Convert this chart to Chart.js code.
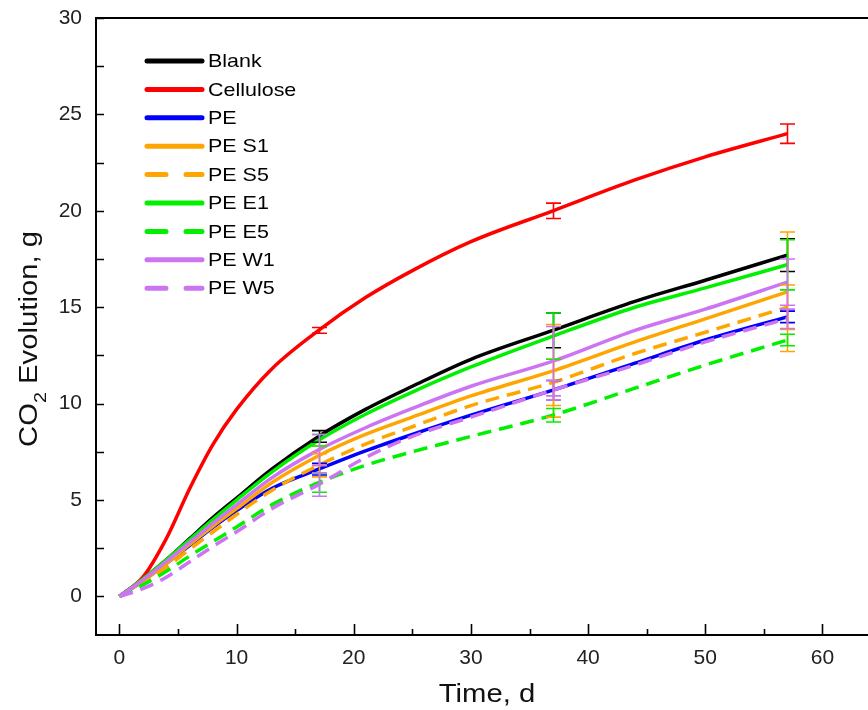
<!DOCTYPE html>
<html>
<head>
<meta charset="utf-8">
<script src="https://cdn.jsdelivr.net/npm/chart.js@4"></script>
<style>
html,body{margin:0;padding:0;background:#fff;overflow:hidden;width:868px;height:710px;}
#wrap{position:absolute;left:0;top:0;width:900px;height:710px;}
</style>
</head>
<body>
<div id="wrap"><canvas id="c" width="900" height="710"></canvas></div>
<script>
// ---- data ----
const days = [0, 2, 4, 6, 8, 10, 13, 17, 21, 25, 30, 37, 44, 50, 57];
const seriesNames = ['Blank','Cellulose','PE','PE S1','PE S5','PE E1','PE E5','PE W1','PE W5'];
const blank     = [0, 0.9, 1.9, 3.0, 4.1, 5.1, 6.6, 8.3, 9.7, 10.9, 12.3, 13.8, 15.3, 16.4, 17.7];
const cellulose = [0, 1.0, 3.0, 5.6, 7.9, 9.7, 11.8, 13.8, 15.5, 16.9, 18.4, 20.0, 21.6, 22.8, 24.0];
const pe        = [0, 0.8, 1.7, 2.65, 3.6, 4.45, 5.6, 6.6, 7.55, 8.4, 9.4, 10.7, 12.1, 13.3, 14.5];
const peS1      = [0, 0.8, 1.7, 2.7, 3.65, 4.55, 5.9, 7.3, 8.4, 9.3, 10.4, 11.7, 13.2, 14.4, 15.8];
const peS5      = [0, 0.7, 1.5, 2.45, 3.35, 4.25, 5.5, 6.8, 7.9, 8.8, 9.9, 11.1, 12.6, 13.7, 15.0];
const peE1      = [0, 0.9, 1.9, 2.95, 4.0, 5.0, 6.45, 8.1, 9.45, 10.6, 11.9, 13.5, 15.0, 16.0, 17.2];
const peE5      = [0, 0.6, 1.3, 2.1, 2.85, 3.6, 4.75, 5.9, 6.8, 7.5, 8.3, 9.4, 10.8, 12.0, 13.3];
const peW1      = [0, 0.85, 1.8, 2.8, 3.8, 4.75, 6.15, 7.6, 8.75, 9.75, 10.9, 12.2, 13.8, 14.9, 16.3];
const peW5      = [0, 0.4, 1.0, 1.8, 2.6, 3.35, 4.55, 5.8, 7.2, 8.3, 9.3, 10.7, 12.0, 13.2, 14.4];
// error bars (± values) at these days
const errDays = [17, 37, 57];
const errBlank     = [0.3, 0.9, 0.85];
const errCellulose = [0.15, 0.4, 0.5];
const errPE        = [0.3, 0.5, 0.3];
const errS1        = [0.5, 2.4, 3.1];
const errS5        = [0.6, 1.2, 1.15];
const errE1        = [0.3, 1.2, 1.3];
const errE5        = [0.5, 0.35, 0.3];
const errW1        = [0.8, 1.8, 1.2];
const errW5        = [0.6, 0.5, 0.5];
const xTicks = [0, 10, 20, 30, 40, 50, 60];
const yTicks = [0, 5, 10, 15, 20, 25, 30];

// ---- styles ----
const ORANGE = '#ffa500', GREEN = '#00f000', PURPLE = '#cc74f2';
const values = [blank, cellulose, pe, peS1, peS5, peE1, peE5, peW1, peW5];
const errs = [errBlank, errCellulose, errPE, errS1, errS5, errE1, errE5, errW1, errW5];
const colors = ['#000000', '#ff0000', '#0000ff', ORANGE, ORANGE, GREEN, GREEN, PURPLE, PURPLE];
const dashed = [false, false, false, false, true, false, true, false, true];
const FONT = '"Liberation Sans", Arial, Helvetica, sans-serif';

const datasets = seriesNames.map((n, i) => ({
  label: n,
  data: days.map((d, k) => ({x: d, y: values[i][k]})),
  borderColor: colors[i],
  backgroundColor: colors[i],
  borderWidth: 3.5,
  borderDash: dashed[i] ? [14, 8] : [],
  pointRadius: 0,
  cubicInterpolationMode: 'monotone',
  fill: false,
  order: 20 - i,
  errs: errs[i]
}));

const errorBarPlugin = {
  id: 'errbars',
  afterDatasetsDraw(chart) {
    const ctx = chart.ctx, xs = chart.scales.x, ys = chart.scales.y;
    ctx.save();
    ctx.lineWidth = 1.6;
    ctx.setLineDash([]);
    chart.data.datasets.forEach((ds, i) => {
      ctx.strokeStyle = ds.borderColor;
      errDays.forEach((d, j) => {
        const k = days.indexOf(d);
        const v = values[i][k], e = ds.errs[j];
        const px = Math.round(xs.getPixelForValue(d)) + 0.5;
        const y1 = ys.getPixelForValue(v + e), y2 = ys.getPixelForValue(v - e);
        ctx.beginPath();
        ctx.moveTo(px, y1); ctx.lineTo(px, y2);
        ctx.moveTo(px - 7.5, y1); ctx.lineTo(px + 7.5, y1);
        ctx.moveTo(px - 7.5, y2); ctx.lineTo(px + 7.5, y2);
        ctx.stroke();
      });
    });
    ctx.restore();
  }
};

function stretchedText(ctx, text, x, y, sx) {
  ctx.save();
  ctx.translate(x, y);
  ctx.scale(sx, 1);
  ctx.fillText(text, 0, 0);
  ctx.restore();
}

const framePlugin = {
  id: 'frame',
  afterDraw(chart) {
    const ctx = chart.ctx, a = chart.chartArea, xs = chart.scales.x, ys = chart.scales.y;
    ctx.save();
    ctx.strokeStyle = '#000';
    ctx.lineWidth = 2;
    ctx.setLineDash([]);
    ctx.beginPath();
    ctx.rect(a.left, a.top, a.right - a.left, a.bottom - a.top);
    ctx.stroke();
    ctx.lineWidth = 1.6;
    ctx.beginPath();
    for (let v = 0; v <= 65; v += 5) {
      const px = Math.round(xs.getPixelForValue(v)) + 0.5;
      const len = (v % 10 === 0) ? 11 : 6;
      ctx.moveTo(px, a.bottom); ctx.lineTo(px, a.bottom - len);
    }
    for (let v = 0; v <= 30; v += 2.5) {
      const py = Math.round(ys.getPixelForValue(v)) + 0.5;
      ctx.moveTo(a.left, py); ctx.lineTo(a.left + 8, py);
    }
    ctx.stroke();
    ctx.restore();

    // x axis title
    ctx.save();
    ctx.fillStyle = '#111';
    ctx.font = '25px ' + FONT;
    ctx.textBaseline = 'alphabetic';
    ctx.textAlign = 'center';
    stretchedText(ctx, 'Time, d', 487, 702, 1.17);
    ctx.restore();

    // y axis title with subscript
    ctx.save();
    ctx.fillStyle = '#111';
    ctx.translate(37, 339);
    ctx.rotate(-Math.PI / 2);
    ctx.scale(1.17, 1);
    const big = '25px ' + FONT, small = '17px ' + FONT;
    ctx.font = big;
    const w1 = ctx.measureText('CO').width;
    const w3 = ctx.measureText(' Evolution, g').width;
    ctx.font = small;
    const w2 = ctx.measureText('2').width;
    const total = w1 + w2 + w3;
    const x0 = -total / 2;
    ctx.textBaseline = 'alphabetic';
    ctx.textAlign = 'left';
    ctx.font = big; ctx.fillText('CO', x0, 0);
    ctx.font = small; ctx.fillText('2', x0 + w1, 9);
    ctx.font = big; ctx.fillText(' Evolution, g', x0 + w1 + w2, 0);
    ctx.restore();

    // legend
    ctx.save();
    ctx.font = '19px ' + FONT;
    ctx.textBaseline = 'middle';
    ctx.fillStyle = '#000';
    chart.data.datasets.forEach((ds, i) => {
      const y = 61 + i * 28.4;
      ctx.strokeStyle = ds.borderColor;
      ctx.lineWidth = 5;
      ctx.lineCap = 'round';
      ctx.beginPath();
      if (dashed[i]) {
        ctx.moveTo(147, y); ctx.lineTo(166, y);
        ctx.moveTo(186, y); ctx.lineTo(202, y);
      } else {
        ctx.moveTo(147, y); ctx.lineTo(202, y);
      }
      ctx.stroke();
      stretchedText(ctx, ds.label, 208, y + 1, 1.13);
    });
    ctx.restore();
  }
};

new Chart(document.getElementById('c'), {
  type: 'line',
  data: { datasets },
  options: {
    responsive: false,
    animation: false,
    devicePixelRatio: 1,
    layout: { padding: { top: 18, right: 19, bottom: 0, left: 0 } },
    plugins: { legend: { display: false }, tooltip: { enabled: false } },
    scales: {
      x: {
        type: 'linear', min: -2, max: 65,
        afterBuildTicks(s) { s.ticks = xTicks.map(v => ({value: v})); },
        afterFit(s) { s.height = 75; s.paddingLeft = 0; s.paddingRight = 0; },
        grid: { display: false, drawTicks: false },
        border: { display: false },
        ticks: { padding: 11, color: '#222', font: { size: 21, family: FONT } }
      },
      y: {
        type: 'linear', min: -2, max: 30,
        afterBuildTicks(s) { s.ticks = yTicks.map(v => ({value: v})); },
        afterFit(s) { s.width = 96; s.paddingTop = 0; s.paddingBottom = 0; },
        grid: { display: false, drawTicks: false },
        border: { display: false },
        ticks: { padding: 14, color: '#222', font: { size: 21, family: FONT } }
      }
    }
  },
  plugins: [errorBarPlugin, framePlugin]
});
</script>
</body>
</html>
